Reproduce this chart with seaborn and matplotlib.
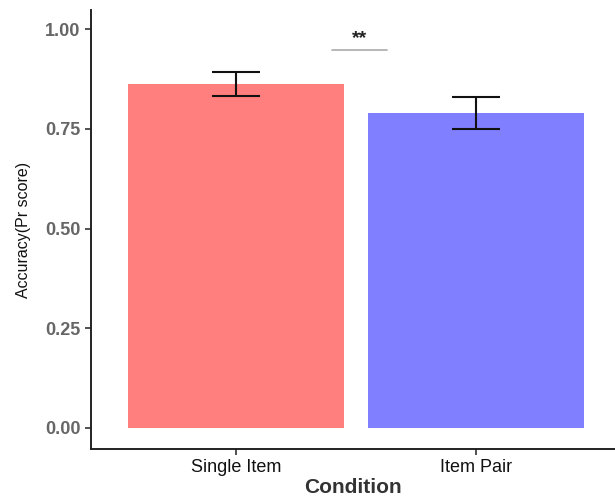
import matplotlib
matplotlib.use("Agg")
import matplotlib.pyplot as plt
import seaborn as sns
import pandas as pd

conditions = ["Single Item", "Item Pair"]
means = [0.862, 0.789]
err_low = [0.833, 0.749]
err_high = [0.893, 0.829]
colors = ["#FF7F7F", "#7F7FFF"]
yticks = [0.00, 0.25, 0.50, 0.75, 1.00]
ytick_labels = ["0.00", "0.25", "0.50", "0.75", "1.00"]

sns.set_theme(style="white")
plt.rcParams['font.family'] = ['Liberation Sans', 'DejaVu Sans']

df = pd.DataFrame({"Condition": conditions, "Accuracy": means})

fig = plt.figure(figsize=(6.15, 4.97), dpi=100)
ax = fig.add_axes([0.148, 0.0966, 0.852, 0.883])

sns.barplot(data=df, x="Condition", y="Accuracy", hue="Condition",
            palette=colors, errorbar=None, width=0.9, ax=ax,
            legend=False, saturation=1, linewidth=0)

xs = list(range(len(conditions)))
yerr = [[m - l for m, l in zip(means, err_low)],
        [h - m for m, h in zip(means, err_high)]]
ax.errorbar(xs, means, yerr=yerr, fmt="none", ecolor="#111111",
            elinewidth=1.5, capsize=17, capthick=1.5)

# significance annotation
ax.plot([0.4, 0.63], [0.948, 0.948], color="#aaaaaa", lw=1.2)
ax.text(0.515, 0.955, "**", ha="center", va="bottom", fontsize=14,
        fontweight="bold", color="#222222")

ax.set_xlim(-0.604, 1.58)
ax.set_ylim(-0.053, 1.048)
ax.set_yticks(yticks)
ax.set_yticklabels(ytick_labels)

for s in ["top", "right"]:
    ax.spines[s].set_visible(False)
for s in ["left", "bottom"]:
    ax.spines[s].set_color("#222222")
    ax.spines[s].set_linewidth(1.4)

ax.tick_params(axis="both", which="both", length=4.5, width=1.2, color="#333333",
               left=True, bottom=True)
ax.tick_params(axis="y", labelsize=13, labelcolor="#666666", pad=3)
ax.tick_params(axis="x", labelsize=13, labelcolor="#111111", pad=3)
for lab in ax.get_yticklabels():
    lab.set_fontweight("bold")

ax.set_xlabel("Condition", fontsize=15, fontweight="bold", color="#333333", labelpad=1)
ax.set_ylabel("Accuracy(Pr score)", fontsize=11.5, color="#111111", labelpad=10)

fig.savefig("out.png", dpi=100)
